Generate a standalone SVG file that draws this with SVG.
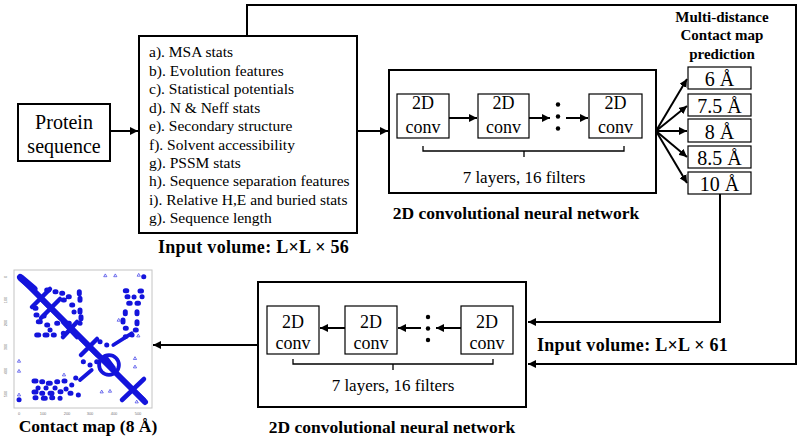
<svg xmlns="http://www.w3.org/2000/svg" width="800" height="448" viewBox="0 0 800 448">
<defs>
<marker id="ah" markerUnits="userSpaceOnUse" markerWidth="9" markerHeight="8" refX="8" refY="4" orient="auto">
<path d="M0,0 L8,4 L0,8 z" fill="#000"/>
</marker>
<path id="tri" d="M0,-1.6 L1.6,1.2 L-1.6,1.2 z" fill="none" stroke="#3a3ae6" stroke-width="0.7"/>
</defs>
<style>
.b{font-weight:bold;fill:#000}
.box{fill:#fff;stroke:#000;stroke-width:2}
.cbox{fill:#fff;stroke:#000;stroke-width:1.2}
.ln{fill:none;stroke:#000;stroke-width:2}
.thin{fill:none;stroke:#000;stroke-width:1.3}
.ax{font-size:4px;fill:#777}
</style>
<rect width="800" height="448" fill="#fff"/>

<g id="connectors">
<line class="ln" x1="110" y1="131" x2="138" y2="131" marker-end="url(#ah)"/>
<line class="ln" x1="357" y1="131" x2="388" y2="131" marker-end="url(#ah)"/>
<polyline class="ln" points="247,36 247,5 796,5 796,364 528,364" marker-end="url(#ah)"/>
<polyline class="ln" points="720,194 720,322 528,322" marker-end="url(#ah)"/>
<line class="ln" x1="656" y1="131" x2="687" y2="79" marker-end="url(#ah)"/>
<line class="ln" x1="656" y1="131" x2="687" y2="106" marker-end="url(#ah)"/>
<line class="ln" x1="656" y1="131" x2="687" y2="131" marker-end="url(#ah)"/>
<line class="ln" x1="656" y1="131" x2="687" y2="157" marker-end="url(#ah)"/>
<line class="ln" x1="656" y1="131" x2="687" y2="183" marker-end="url(#ah)"/>
<line class="ln" x1="258" y1="345" x2="153" y2="345" marker-end="url(#ah)"/>
</g>

<g font-family="Liberation Serif, Times New Roman, Times, serif" font-weight="normal" fill="#000">
<g id="protein">
<rect class="box" x="18" y="104" width="92" height="57"/>
<text x="64" y="129" font-size="20" text-anchor="middle">Protein</text>
<text x="64" y="153" font-size="20" text-anchor="middle">sequence</text>
</g>

<g id="features">
<rect class="box" x="139" y="36" width="218" height="197"/>
<g font-size="15.5" style="white-space:pre">
<text x="149" y="57.3">a). MSA stats</text>
<text x="149" y="75.7">b). Evolution features</text>
<text x="149" y="94.2">c). Statistical potentials</text>
<text x="149" y="112.6">d). N &amp; Neff stats</text>
<text x="149" y="131">e). Secondary structure</text>
<text x="149" y="149.5">f). Solvent accessibility</text>
<text x="149" y="167.9">g). PSSM stats</text>
<text x="149" y="186.4">h). Sequence separation features</text>
<text x="149" y="204.8">i).  Relative H,E and buried stats</text>
<text x="149" y="223.3">g). Sequence length</text>
</g>
<text class="b" x="158" y="252.5" font-size="18" letter-spacing="0.3">Input volume: L×L × 56</text>
</g>

<g id="cnn1">
<rect class="box" x="389" y="70" width="267" height="123"/>
<rect class="cbox" x="397" y="94" width="52" height="44"/>
<rect class="cbox" x="478" y="94" width="51" height="44"/>
<rect class="cbox" x="589" y="94" width="53" height="44"/>
<g font-size="18" text-anchor="middle">
<text x="423" y="108.5">2D</text><text x="423" y="133">conv</text>
<text x="503.5" y="108.5">2D</text><text x="503.5" y="133">conv</text>
<text x="615.5" y="108.5">2D</text><text x="615.5" y="133">conv</text>
</g>
<line class="ln" x1="449" y1="118" x2="477" y2="118" marker-end="url(#ah)"/>
<line class="ln" x1="529" y1="118" x2="550" y2="118" marker-end="url(#ah)"/>
<line class="ln" x1="566" y1="118" x2="588" y2="118" marker-end="url(#ah)"/>
<circle cx="558" cy="104.5" r="2.2"/><circle cx="558" cy="116.5" r="2.2"/><circle cx="558" cy="128.5" r="2.2"/>
<path class="thin" d="M423,146 V151 H624 V146 M524,151 V157"/>
<text x="524" y="182.5" font-size="17" text-anchor="middle">7 layers, 16 filters</text>
<text class="b" x="516" y="219" font-size="17.5" text-anchor="middle">2D convolutional neural network</text>
</g>

<g id="prediction">
<g class="b" font-size="15" text-anchor="middle">
<text x="722" y="21.5">Multi-distance</text>
<text x="722" y="40">Contact map</text>
<text x="722" y="58.5">prediction</text>
</g>
<g font-size="20" text-anchor="middle">
<rect class="cbox" x="688" y="67" width="63" height="22"/><text x="719.5" y="86">6 Å</text>
<rect class="cbox" x="688" y="94" width="63" height="22"/><text x="719.5" y="113">7.5 Å</text>
<rect class="cbox" x="688" y="119" width="63" height="23"/><text x="719.5" y="139">8 Å</text>
<rect class="cbox" x="688" y="146" width="63" height="22"/><text x="719.5" y="165">8.5 Å</text>
<rect class="cbox" x="688" y="172" width="63" height="22"/><text x="719.5" y="191">10 Å</text>
</g>
<text class="b" x="537" y="351" font-size="18" letter-spacing="0.3">Input volume: L×L × 61</text>
</g>

<g id="cnn2">
<rect class="box" x="258" y="282" width="268" height="125"/>
<rect class="cbox" x="267" y="306" width="52" height="48"/>
<rect class="cbox" x="345" y="306" width="52" height="48"/>
<rect class="cbox" x="461" y="306" width="52" height="48"/>
<g font-size="18" text-anchor="middle">
<text x="293" y="328">2D</text><text x="293" y="349">conv</text>
<text x="371" y="328">2D</text><text x="371" y="349">conv</text>
<text x="487" y="328">2D</text><text x="487" y="349">conv</text>
</g>
<line class="ln" x1="461" y1="328" x2="436" y2="328" marker-end="url(#ah)"/>
<line class="ln" x1="421" y1="328" x2="398" y2="328" marker-end="url(#ah)"/>
<line class="ln" x1="345" y1="328" x2="320" y2="328" marker-end="url(#ah)"/>
<circle cx="428" cy="317" r="2.2"/><circle cx="428" cy="328.5" r="2.2"/><circle cx="428" cy="340" r="2.2"/>
<path class="thin" d="M293,359 V364 H493 V359 M393,364 V370"/>
<text x="393" y="391" font-size="17" text-anchor="middle">7 layers, 16 filters</text>
<text class="b" x="392" y="432.5" font-size="17.5" text-anchor="middle">2D convolutional neural network</text>
</g>

<g id="contactmap">
<rect x="14" y="270" width="138" height="138" fill="#fff" stroke="#c4c4c4" stroke-width="1"/>
<g class="ax" font-family="Liberation Sans, Arial, sans-serif" text-anchor="middle">
<text transform="translate(7,277) rotate(-90)">0</text>
<text transform="translate(7,300) rotate(-90)">100</text>
<text transform="translate(7,323) rotate(-90)">200</text>
<text transform="translate(7,347) rotate(-90)">300</text>
<text transform="translate(7,371) rotate(-90)">400</text>
<text transform="translate(7,394) rotate(-90)">500</text>
<text x="19" y="415">0</text>
<text x="43" y="415">100</text>
<text x="67" y="415">200</text>
<text x="90" y="415">300</text>
<text x="114" y="415">400</text>
<text x="138" y="415">500</text>
</g>
<g fill="none" stroke="#1414dc" stroke-linecap="round" stroke-linejoin="round">
<path stroke-width="6" d="M20,277 L145,402"/>
<path stroke-width="7" d="M21,278 L34,289"/>
<path stroke-width="4.5" d="M32,289 L50,307 M50,289 L32,307 M41,299 L60,318 M60,299 L41,318 M63,322 L77,337 M77,322 L63,337 M81,339 L97,355 M97,339 L81,355 M122,379 L144,400 M144,379 L122,400"/>
<path stroke-width="3.8" d="M102,358 a7,7 0 1,0 14,14 a7,7 0 1,0 -14,-14 M113.3,345 L131.7,333.3 M80,380 L91.7,370 M105,356 L114,368"/>
<path stroke-width="5" d="M125.3,290.7h1.5 M140,291h1.5 M142,296.7h0.1 M127,296.7h1 M128.7,303.3h1.5 M137,303.3h1.5 M125.3,311.7v2 M137,311.7v2 M123,320v2 M137,321.7v2 M125.3,328.3h1 M135.3,330h1 M125.3,336.7h0.1 M132,335h0.1 M134,297h0.1
M34,381h2 M41.7,381.7h1 M48.3,383.3h2 M56.7,381.7h1 M64,381h1 M71.7,385h0.1 M75.7,378h0.1 M34,392h2 M41.7,393.3h1 M50,393.3h2 M60,391.7h1 M70,393.3h1 M78.3,395h0.1 M35,397.7h1 M43.3,398.3h2 M51.7,397.7h1 M60,398.3h0.1 M38,388h0.1 M46,388h0.1 M55,388h0.1 M66,389h0.1
M46.7,290h2 M55,291.7h1 M61.7,293.3h1 M68.3,296.7h1 M79.3,291.7v2 M80,298.3v2 M63.3,300h1 M71.7,305h1 M80,310v2 M81,316.7v2 M68.3,323.3h1 M80,323.3h0.1 M74,312h0.1
M35,308.3h1 M36,315h1 M38.3,321.7h2 M36.7,335h2 M45,335h2 M53.3,335h1 M63.3,333.3h0.1 M46.7,325h1 M56.7,323.3h1 M44,316h0.1 M50,330h0.1
M100,341.7h0.1 M106.7,345h0.1 M83.3,361.7h0.1 M90,365h0.1 M96.7,361.7h0.1 M143.7,276.7h0.1 M19,399.7h0.1"/>
</g>
<use href="#tri" x="105.3" y="275.5"/><use href="#tri" x="115.3" y="275.5"/><use href="#tri" x="138.7" y="275"/>
<use href="#tri" x="118.7" y="320"/><use href="#tri" x="138.3" y="335.7"/><use href="#tri" x="64" y="374.7"/>
<use href="#tri" x="19" y="361"/><use href="#tri" x="19" y="371"/><use href="#tri" x="101.7" y="391.7"/>
<use href="#tri" x="110" y="391"/><use href="#tri" x="135" y="358.3"/><use href="#tri" x="135" y="366.7"/>
<use href="#tri" x="136.7" y="401.7"/><use href="#tri" x="19" y="394.7"/>
<text class="b" x="88" y="432" font-size="17.5" text-anchor="middle">Contact map (8 Å)</text>
</g>
</g>
</svg>
